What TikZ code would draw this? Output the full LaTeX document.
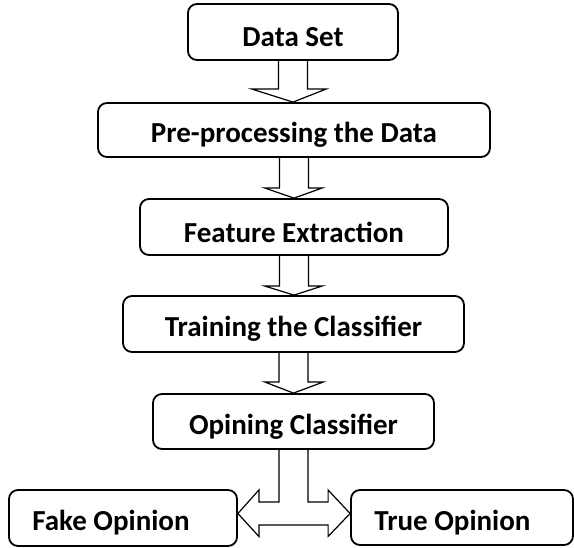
\documentclass[tikz,border=0pt]{standalone}
\usepackage{fontspec}
\setmainfont{Carlito}
\usetikzlibrary{calc}
\newcommand\lowtext[1]{\raisebox{-5pt}[\height][\depth]{#1}}
\begin{document}
\begin{tikzpicture}[x=1pt,y=-1pt,
  box/.style={draw=black,line width=1.8pt,rounded corners=9pt,fill=white,inner sep=0pt,
    font=\fontsize{29}{33}\selectfont\bfseries,align=center},
  blockarrow/.style={draw=black,line width=1.2pt,line join=miter}]
\useasboundingbox[fill=white] (0,0) rectangle (574,548);
\node[box,minimum width=210pt,minimum height=56pt] (ds) at (293,32) {\lowtext{Data Set}};
\node[box,minimum width=392pt,minimum height=54pt] (pp) at (294,130) {\lowtext{Pre-processing the Data}};
\node[box,minimum width=308pt,minimum height=56pt] (fe) at (294,227) {\lowtext{Feature Extraction}};
\node[box,minimum width=341pt,minimum height=56pt] (tc) at (293.5,324) {\lowtext{Training the Classifier}};
\node[box,minimum width=281pt,minimum height=55pt] (oc) at (293.5,421.5) {\lowtext{Opining Classifier}};
\node[box,minimum width=228pt,minimum height=56pt] (fo) at (123,518) {\hspace*{-24pt}\lowtext{Fake Opinion}};
\node[box,minimum width=222pt,minimum height=55pt] (to) at (462,517.5) {\hspace*{-19pt}\lowtext{True Opinion}};
% down block arrows
\draw[blockarrow] let \p1=(ds.south), \p2=(pp.north) in
  (\x1-14.5pt,\y1) -- (\x1-14.5pt,\y2+13pt) -- (\x1-41pt,\y2+13pt) -- (\x1,\y2)
  -- (\x1+33pt,\y2+13pt) -- (\x1+14.5pt,\y2+13pt) -- (\x1+14.5pt,\y1);
\draw[blockarrow] let \p1=(pp.south), \p2=(fe.north) in
  (\x1-14.5pt,\y1) -- (\x1-14.5pt,\y2+10pt) -- (\x1-29pt,\y2+10pt) -- (\x1,\y2)
  -- (\x1+28pt,\y2+10pt) -- (\x1+14.5pt,\y2+10pt) -- (\x1+14.5pt,\y1);
\draw[blockarrow] let \p1=(fe.south), \p2=(tc.north) in
  (\x1-14.5pt,\y1) -- (\x1-14.5pt,\y2+9pt) -- (\x1-29pt,\y2+9pt) -- (\x1,\y2)
  -- (\x1+28pt,\y2+9pt) -- (\x1+14.5pt,\y2+9pt) -- (\x1+14.5pt,\y1);
\draw[blockarrow] let \p1=(tc.south), \p2=(oc.north) in
  (\x1-14.5pt,\y1) -- (\x1-14.5pt,\y2+11pt) -- (\x1-28.5pt,\y2+11pt) -- (\x1,\y2)
  -- (\x1+29.5pt,\y2+11pt) -- (\x1+14.5pt,\y2+11pt) -- (\x1+14.5pt,\y1);
% split double arrow
\draw[blockarrow] let \p1=(oc.south), \p2=(fo.east), \p3=(to.west) in
  (\x1-14.5pt,\y1) -- (\x1-14.5pt,\y2+16pt) -- (\x2+21pt,\y2+16pt) -- (\x2+21pt,\y2+28pt)
  -- (\x2,\y2+4.5pt) -- (\x2+21pt,\y2-18.5pt) -- (\x2+21pt,\y2-7pt)
  -- (\x3-22pt,\y2-7pt) -- (\x3-22pt,\y2-18.5pt) -- (\x3,\y2+4.5pt)
  -- (\x3-22pt,\y2+28pt) -- (\x3-22pt,\y2+16pt) -- (\x1+14.5pt,\y2+16pt) -- (\x1+14.5pt,\y1);
\end{tikzpicture}
\end{document}
